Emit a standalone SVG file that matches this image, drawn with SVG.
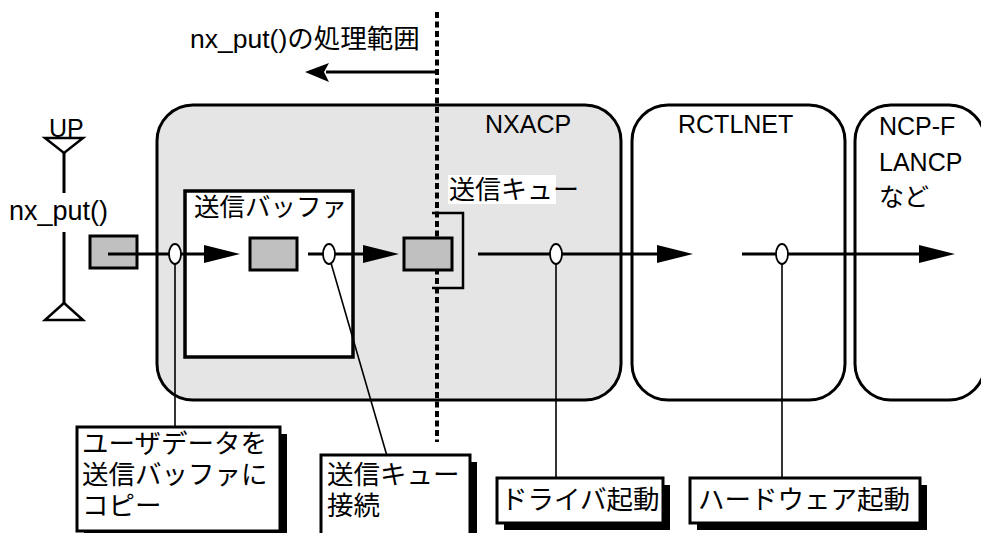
<svg xmlns="http://www.w3.org/2000/svg" width="981" height="533" viewBox="0 0 981 533">
<style>
text{font-family:"Liberation Sans","Noto Sans CJK JP",sans-serif;font-size:25px;fill:#000}
.big{font-size:26.5px}
.mod{stroke:#000;stroke-width:3}
.gray{fill:#c0c0c0;stroke:#000;stroke-width:3}
.flow{stroke:#000;stroke-width:3;fill:none}
.oval{fill:#fff;stroke:#000;stroke-width:1.8}
.lead{stroke:#000;stroke-width:1.6;fill:none}
.shadow{fill:#000}
.lbl{fill:#fff;stroke:#000;stroke-width:3}
</style>
<defs>
<marker id="ah" markerUnits="userSpaceOnUse" markerWidth="37" markerHeight="20" refX="0" refY="10" orient="auto">
<path d="M0,1 L36,10 L0,19 Z" fill="#000"/>
</marker>
</defs>

<g id="NXACP">
<rect class="mod" x="157" y="105" width="464" height="295" rx="36" fill="#e5e5e5"/>
<text x="485" y="133">NXACP</text>
</g>
<g id="RCTLNET">
<rect class="mod" x="632" y="105" width="213" height="295" rx="36" fill="#fff"/>
<text x="678" y="133">RCTLNET</text>
</g>
<g id="NCPF">
<rect class="mod" x="855" y="105" width="130" height="295" rx="36" fill="#fff"/>
<text x="879" y="135">NCP-F</text>
<text x="879" y="171">LANCP</text>
<text x="879" y="206">など</text>
</g>
<g id="sendbuffer">
<rect x="185" y="191" width="168" height="166" fill="#fff" stroke="#000" stroke-width="3.5"/>
<text x="194" y="216" style="font-size:25.5px">送信バッファ</text>
</g>
<g id="UP">
<text x="49" y="137">UP</text>
<path d="M45,138 L83,138 L64,153 Z" fill="#fff" stroke="#000" stroke-width="2.5"/>
<line x1="64" y1="153" x2="64" y2="193" stroke="#000" stroke-width="3"/>
<text x="9" y="220" style="font-size:27px">nx_put()</text>
<line x1="64" y1="232" x2="64" y2="303" stroke="#000" stroke-width="3"/>
<path d="M45,320 L83,320 L64,303 Z" fill="#fff" stroke="#000" stroke-width="2.5"/>
</g>

<g id="range">
<line x1="437" y1="12" x2="437" y2="442" stroke="#000" stroke-width="4" stroke-dasharray="6 3.5"/>
<text x="190" y="48" style="font-size:26.5px">nx_put()の処理範囲</text>
<line x1="437" y1="72" x2="326" y2="72" stroke="#000" stroke-width="3"/>
<path d="M305,72 L329,63 L324,72 L329,82 Z" fill="#000"/>
</g>

<g id="queue">
<rect x="448" y="175" width="108" height="29" fill="#fff"/>
<text x="449" y="199" style="font-size:26px">送信キュー</text>
<path d="M432,213 H463 V288 H432" fill="none" stroke="#000" stroke-width="2.5"/>
</g>

<g id="data1"><rect class="gray" x="90" y="236" width="47" height="32"/></g>
<g id="data2"><rect class="gray" x="250" y="238" width="47" height="32"/></g>
<g id="data3"><rect class="gray" x="404" y="238" width="48" height="32"/></g>

<g id="connectors">
<line class="flow" x1="108" y1="254" x2="204" y2="254" marker-end="url(#ah)"/>
<line class="flow" x1="308" y1="254" x2="363" y2="254" marker-end="url(#ah)"/>
<line class="flow" x1="478" y1="254" x2="657" y2="254" marker-end="url(#ah)"/>
<line class="flow" x1="742" y1="254" x2="919" y2="254" marker-end="url(#ah)"/>
<line class="lead" x1="175" y1="264" x2="175" y2="428"/>
<line class="lead" x1="331" y1="263" x2="387" y2="456"/>
<line class="lead" x1="556" y1="264" x2="556" y2="478"/>
<line class="lead" x1="782" y1="264" x2="782" y2="478" stroke-width="2.2"/>
<ellipse class="oval" cx="175" cy="254" rx="6" ry="10"/>
<ellipse class="oval" cx="329" cy="254" rx="6" ry="10"/>
<ellipse class="oval" cx="556" cy="254" rx="6" ry="10"/>
<ellipse class="oval" cx="782" cy="254" rx="6" ry="10"/>
</g>

<g id="label-copy">
<rect class="shadow" x="84" y="434" width="203" height="104"/>
<rect class="lbl" x="77" y="427" width="203" height="104"/>
<text class="big" x="82" y="453">ユーザデータを</text>
<text class="big" x="82" y="484">送信バッファに</text>
<text class="big" x="82" y="515">コピー</text>
</g>
<g id="label-connect">
<rect class="shadow" x="328" y="462" width="149" height="80"/>
<rect class="lbl" x="321" y="455" width="149" height="80"/>
<text class="big" x="327" y="484">送信キュー</text>
<text class="big" x="327" y="515">接続</text>
</g>
<g id="label-driver">
<rect class="shadow" x="504" y="485" width="166" height="45"/>
<rect class="lbl" x="497" y="478" width="166" height="45"/>
<text class="big" x="501" y="509">ドライバ起動</text>
</g>
<g id="label-hw">
<rect class="shadow" x="697" y="485" width="230" height="45"/>
<rect class="lbl" x="690" y="478" width="230" height="45"/>
<text class="big" x="698" y="509">ハードウェア起動</text>
</g>
</svg>
